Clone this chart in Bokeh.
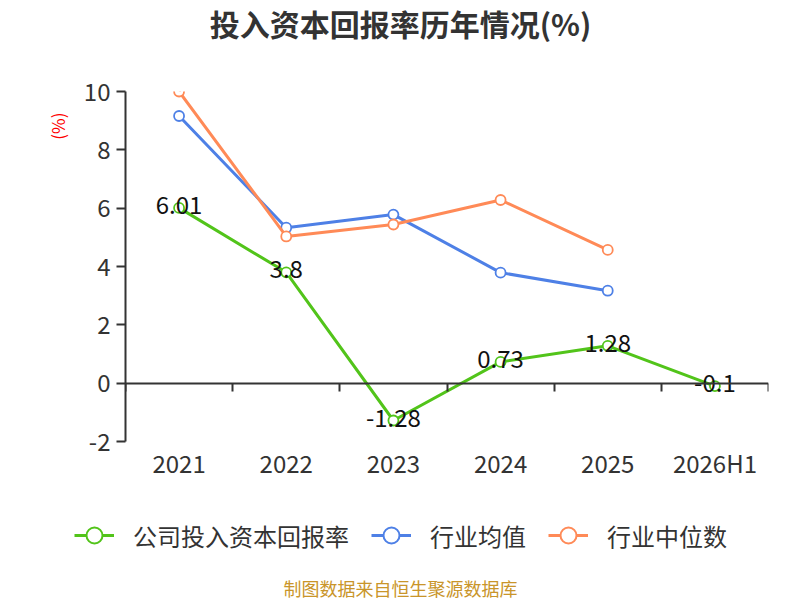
from bokeh.plotting import figure
from bokeh.models import (FixedTicker, LinearAxis, Range1d, Legend, LegendItem,
                          ColumnDataSource, Title, Label)
from bokeh.layouts import column, row
from bokeh.embed import file_html
from bokeh.resources import INLINE
from bokeh.core.properties import value

categories = ["2021", "2022", "2023", "2024", "2025", "2026H1"]
company = [6.01, 3.8, -1.28, 0.73, 1.28, -0.1]
industry_avg = [9.16, 5.33, 5.78, 3.79, 3.17]
industry_median = [10.0, 5.03, 5.44, 6.28, 4.57]
y_ticks = [-2, 0, 2, 4, 6, 8, 10]
series_names = ["公司投入资本回报率", "行业均值", "行业中位数"]
colors = ["#52c41a", "#4e80e6", "#ff8a57"]
title_text = "投入资本回报率历年情况(%)"
footer_text = "制图数据来自恒生聚源数据库"

FONT = "Noto Sans CJK SC"
W = 800
H0, H1, H2 = 44, 456, 100
FL, FR = 125, 768
FT, FB = 91 - H0, 441 - H0   # frame top/bottom inside main figure

x_pos = [i + 0.5 for i in range(len(categories))]
series = [company, industry_avg, industry_median]


def blank(height, xr=(0, 1)):
    f = figure(width=W, height=height, output_backend="svg", toolbar_location=None,
               x_range=Range1d(*xr), y_range=Range1d(-100, -99),
               x_axis_type=None, y_axis_type=None,
               min_border=0, min_border_left=0, min_border_right=0,
               min_border_top=0, min_border_bottom=0)
    f.outline_line_color = None
    f.grid.visible = False
    f.background_fill_color = "white"
    f.border_fill_color = "white"
    return f


# ---- title strip
p0 = blank(H0)
p0.add_layout(Label(x=W / 2, y=H0 / 2, x_units="screen", y_units="screen", text=title_text,
                    text_align="center", text_baseline="middle", text_font=FONT,
                    text_font_size="30px", text_font_style="bold", text_color="#333333"))

# ---- main chart
p = figure(width=W, height=H1, output_backend="svg", toolbar_location=None,
           x_range=Range1d(0, len(categories)), y_range=Range1d(-2, 10),
           min_border_left=FL, min_border_right=W - FR,
           min_border_top=FT, min_border_bottom=H1 - FB,
           x_axis_type=None, y_axis_type=None)
p.outline_line_color = None
p.background_fill_color = "white"
p.border_fill_color = "white"

yaxis = LinearAxis(ticker=FixedTicker(ticks=y_ticks),
                   major_label_overrides={t: str(t) for t in y_ticks})
yaxis.axis_line_color = "#333333"
yaxis.axis_line_width = 2
yaxis.major_tick_line_color = "#333333"
yaxis.major_tick_line_width = 2
yaxis.major_tick_out = 9
yaxis.major_tick_in = 0
yaxis.minor_tick_line_color = None
yaxis.major_label_text_font = FONT
yaxis.major_label_text_font_size = "24px"
yaxis.major_label_text_color = "#333333"
yaxis.major_label_standoff = 6
p.add_layout(yaxis, "left")

unit = Title(text="(%)", align="right", offset=21, standoff=22,
             text_font=FONT, text_font_size="17px", text_font_style="normal",
             text_color="red")
p.add_layout(unit, "left")

xzero = LinearAxis(ticker=FixedTicker(ticks=list(range(len(categories) + 1))), fixed_location=0)
xzero.axis_line_color = "#333333"
xzero.axis_line_width = 2
xzero.major_tick_line_color = "#333333"
xzero.major_tick_line_width = 2
xzero.major_tick_out = 8
xzero.major_tick_in = 0
xzero.minor_tick_line_color = None
xzero.major_label_text_font_size = "0px"
xzero.major_label_text_color = None
xzero.major_label_standoff = 0
p.add_layout(xzero, "below")

xcat = LinearAxis(ticker=FixedTicker(ticks=x_pos),
                  major_label_overrides={x: c for x, c in zip(x_pos, categories)})
xcat.axis_line_color = None
xcat.major_tick_line_color = None
xcat.minor_tick_line_color = None
xcat.major_label_text_font = FONT
xcat.major_label_text_font_size = "24px"
xcat.major_label_text_color = "#333333"
xcat.major_label_standoff = -3
p.add_layout(xcat, "below")

p.ygrid.ticker = FixedTicker(ticks=y_ticks)
p.ygrid.grid_line_color = "#c8c8c8"
p.ygrid.grid_line_width = 1.5
p.ygrid.grid_line_dash = "6 5"
p.xgrid.visible = False

for vals, col in zip(series, colors):
    src = ColumnDataSource(dict(x=x_pos[:len(vals)], y=vals))
    p.line("x", "y", source=src, line_color=col, line_width=3)
    p.scatter("x", "y", source=src, size=10, fill_color="white",
              line_color=col, line_width=1.8)

lab_src = ColumnDataSource(dict(x=x_pos, y=company, t=[str(v) for v in company]))
p.text("x", "y", text="t", source=lab_src, text_align="center", text_baseline="middle",
       y_offset=-3, text_font=value(FONT), text_font_size="24px", text_color="#111111")

# ---- legend + footer strip (series drawn out of view, only their legend shows)
p2 = blank(H2)
items = []
for name, vals, col in zip(series_names, series, colors):
    src = ColumnDataSource(dict(x=x_pos[:len(vals)], y=vals))
    ln = p2.line("x", "y", source=src, line_color=col, line_width=3)
    sc = p2.scatter("x", "y", source=src, size=16, fill_color="white",
                    line_color=col, line_width=2)
    items.append(LegendItem(label=name, renderers=[ln, sc]))

legend = Legend(items=items, orientation="horizontal", location=(74, H2 - 37 - 20 + 2),
                label_text_font=FONT, label_text_font_size="24px",
                label_text_color="#333333", glyph_width=40, glyph_height=40,
                label_height=40, label_standoff=19, spacing=22, border_line_color=None,
                background_fill_alpha=0, padding=0, margin=0)
p2.add_layout(legend, "center")

p2.add_layout(Label(x=W / 2, y=H2 - 87, x_units="screen", y_units="screen", text=footer_text,
                    text_align="center", text_baseline="middle", text_font=FONT,
                    text_font_size="18px", text_color="#c9952a"))

layout = column(row(p0), p, row(p2), spacing=0)
open("out.html", "w").write(file_html(layout, INLINE))
